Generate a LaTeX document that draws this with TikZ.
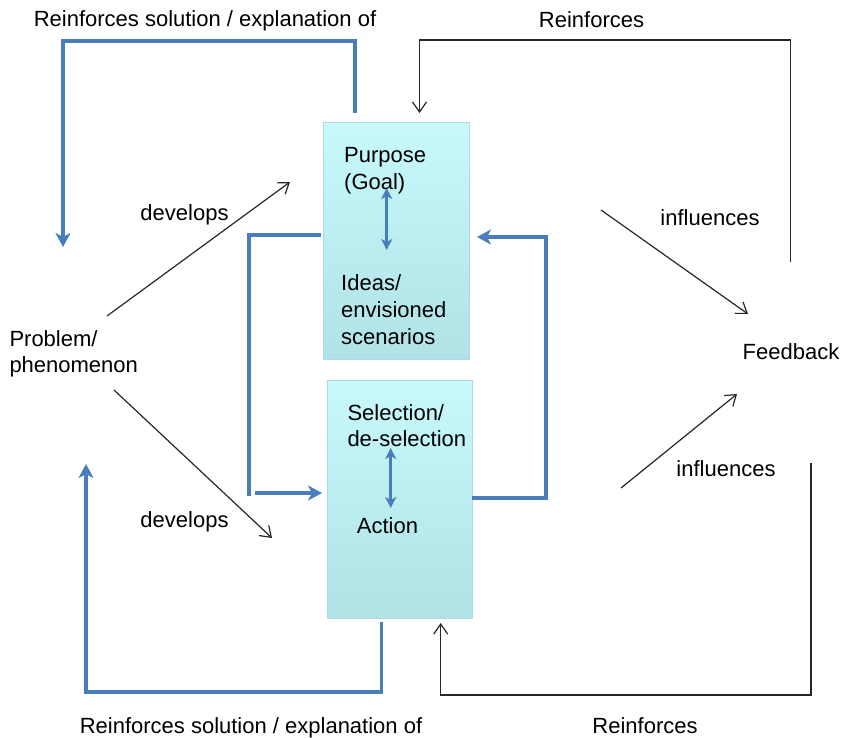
\documentclass[tikz,border=0pt]{standalone}
\usepackage{fontspec}
\setmainfont{Liberation Sans}
\usepackage{tikz}
\usetikzlibrary{arrows.meta,calc,positioning}
\definecolor{lineblue}{HTML}{4A7EBB}
\definecolor{boxtop}{HTML}{C8F9FB}
\definecolor{boxbottom}{HTML}{B0E2E6}
\definecolor{boxedge}{HTML}{A9DDE1}

\begin{document}
\begin{tikzpicture}[x=1pt,y=-1pt,
		font=\fontsize{22}{26.7}\selectfont,
		box/.style={draw=boxedge, line width=0.8pt, top color=boxtop, bottom color=boxbottom, inner sep=0pt, outer sep=0pt},
		lbl/.style={inner sep=0pt, anchor=base},
		txt/.style={inner sep=0pt, anchor=base west, align=left},
		blueline/.style={draw=lineblue, line width=3.5pt},
		bluearrow/.style={blueline, -{Stealth[length=14pt,width=15pt,inset=4pt]}},
		bluedouble/.style={draw=lineblue, line width=3pt, {Stealth[length=11pt,width=11pt,inset=3pt]}-{Stealth[length=11pt,width=11pt,inset=3pt]}},
		blackarrow/.style={draw=black!85, line width=1.2pt, -{Straight Barb[length=10pt,width=14pt]}}]
		\useasboundingbox (0,0) rectangle (842,737);
		\node[box, minimum width=146pt, minimum height=237pt] (purposebox) at(396,240.5) {};
		\node[box, minimum width=145pt, minimum height=238pt] (actionbox) at(399.5,499) {};
		\coordinate (sol1) at(355,113);
		\coordinate (sol2) at(63,41);
		\coordinate (sol3) at(63,247);
		\coordinate (sol4) at(381.5,622);
		\coordinate (sol5) at(86,692);
		\coordinate (sol6) at(86,464);
		\coordinate (lin1) at(321,235);
		\coordinate (lin2) at(249,496);
		\coordinate (lin3) at(255,493);
		\coordinate (lin4) at(322,493);
		\coordinate (rin1) at(472,498);
		\coordinate (rin2) at(546,237);
		\coordinate (rin3) at(477,237);
		\coordinate (pg1) at(386.7,188);
		\coordinate (pg2) at(386.7,250);
		\coordinate (sa1) at(390.7,448);
		\coordinate (sa2) at(390.7,508);
		\coordinate (fb1) at(790.5,262);
		\coordinate (fb2) at(419.5,40);
		\coordinate (fb3) at(419.5,113);
		\coordinate (fb4) at(811,463);
		\coordinate (fb5) at(440.7,695);
		\coordinate (fb6) at(440.7,623);
		\coordinate (pp1) at(107,316);
		\coordinate (pp2) at(290,182);
		\coordinate (pp3) at(114,390);
		\coordinate (pp4) at(272,538);
		\coordinate (in1) at(601,210);
		\coordinate (in2) at(748,314);
		\coordinate (in3) at(621,488);
		\coordinate (in4) at(737,394);
		\draw[bluearrow] (sol1) |- (sol2) -- (sol3);
		\draw[bluearrow] (sol4) |- (sol5) -- (sol6);
		\draw[blueline] (lin1) -| (lin2);
		\draw[bluearrow] (lin3) -- (lin4);
		\draw[bluearrow] (rin1) -| (rin2) -- (rin3);
		\draw[bluedouble] (pg1) -- (pg2);
		\draw[bluedouble] (sa1) -- (sa2);
		\draw[blackarrow] (fb1) |- (fb2) -- (fb3);
		\draw[blackarrow] (fb4) |- (fb5) -- (fb6);
		\draw[blackarrow] (pp1) -- (pp2);
		\draw[blackarrow] (pp3) -- (pp4);
		\draw[blackarrow] (in1) -- (in2);
		\draw[blackarrow] (in3) -- (in4);
		\node[lbl] (solutiontop) at(205,26.7) {Reinforces solution / explanation of};
		\node[lbl] (reinforcetop) at(591.5,27) {Reinforces};
		\node[lbl] (solutionbottom) at(251,733) {Reinforces solution / explanation of};
		\node[lbl] (reinforcebottom) at(645,733) {Reinforces};
		\node[lbl] (developstop) at(184.5,220) {develops};
		\node[lbl] (developsbottom) at(184.5,527) {develops};
		\node[lbl] (influencestop) at(710,225.7) {influences};
		\node[lbl] (influencesbottom) at(726,476.7) {influences};
		\node[lbl] (feedback) at(791,359) {Feedback};
		\node[txt] (problem) at(9.3,372.7) {Problem/\\phenomenon};
		\node[txt] (purpose) at(344,189) {Purpose\\(Goal)};
		\node[txt] (ideas) at(341,344) {Ideas/\\envisioned\\scenarios};
		\node[txt] (selection) at(347.3,446.7) {Selection/\\de-selection};
		\node[txt] (action) at(356.7,533) {Action};
	\end{tikzpicture}
\end{document}
